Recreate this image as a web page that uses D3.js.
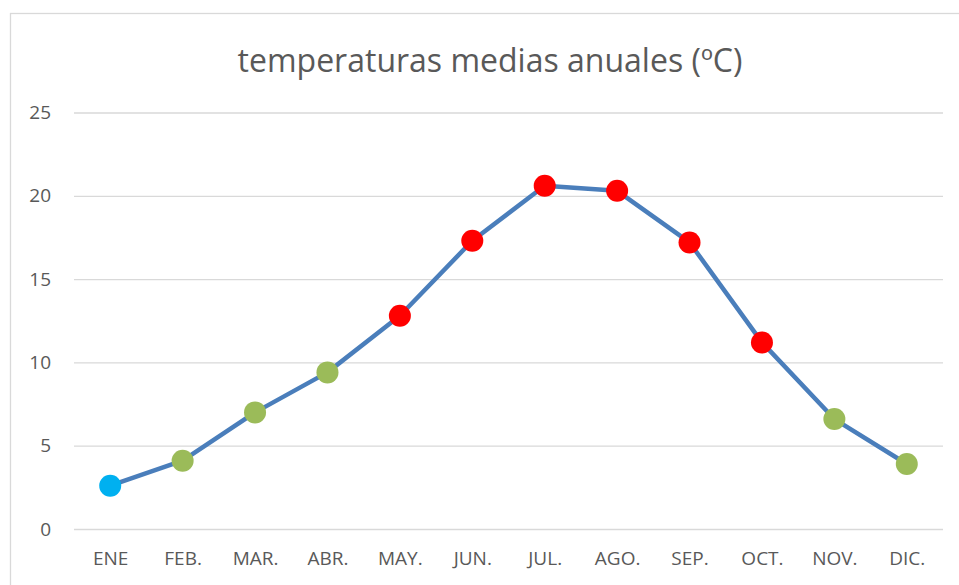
<!DOCTYPE html>
<html>
<head>
<meta charset="utf-8">
<script src="https://cdn.jsdelivr.net/npm/d3@7"></script>
<style>
  body { margin: 0; background: #fff; }
  .grid line { stroke: #d9d9d9; stroke-width: 1.3; }
  .axis text { fill: #595959; font-family: "Open Sans", sans-serif; font-size: 19px; }
</style>
</head>
<body>
<div id="chart"></div>
<script>
// data
var months = ["ENE", "FEB.", "MAR.", "ABR.", "MAY.", "JUN.", "JUL.", "AGO.", "SEP.", "OCT.", "NOV.", "DIC."];
var temps  = [2.6, 4.1, 7.0, 9.4, 12.8, 17.3, 20.6, 20.3, 17.2, 11.2, 6.6, 3.9];
// marker colour group per month: cold / mild / hot
var groups = ["cold", "mild", "mild", "mild", "hot", "hot", "hot", "hot", "hot", "hot", "mild", "mild"];
var yTicks = [0, 5, 10, 15, 20, 25];

var colors = {cold: "#00b0f0", mild: "#9bbb59", hot: "#ff0000"};

var w = 959, h = 585;
var plot = {left: 74, right: 943, top: 112.5, bottom: 529};

var svg = d3.select("#chart").append("svg")
  .attr("width", w)
  .attr("height", h);

//chart border
svg.append("rect")
  .attr("x", 10.5).attr("y", 13.5)
  .attr("width", 970).attr("height", 600)
  .attr("fill", "none")
  .attr("stroke", "#d9d9d9")
  .attr("stroke-width", 1.3);

var xScale = d3.scalePoint()
  .domain(months)
  .range([plot.left, plot.right])
  .padding(0.5);

var yScale = d3.scaleLinear()
  .domain([0, 25])
  .range([plot.bottom, plot.top]);

//gridlines
svg.append("g")
  .attr("class", "grid")
  .attr("transform", "translate(" + plot.left + ",0)")
  .call(d3.axisLeft(yScale).tickValues(yTicks).tickSize(-(plot.right - plot.left)).tickFormat(""))
  .call(function(g){ g.select(".domain").remove(); });

//y axis labels
svg.append("g")
  .attr("class", "axis")
  .attr("transform", "translate(" + plot.left + ",0)")
  .call(d3.axisLeft(yScale).tickValues(yTicks).tickSize(0).tickPadding(23))
  .call(function(g){ g.select(".domain").remove(); });

//x axis labels
svg.append("g")
  .attr("class", "axis")
  .attr("transform", "translate(0," + plot.bottom + ")")
  .call(d3.axisBottom(xScale).tickSize(0).tickPadding(23))
  .call(function(g){ g.select(".domain").remove(); });

var line = d3.line()
  .x(function(d, i) { return xScale(months[i]); })
  .y(function(d) { return yScale(d); });

svg.append("path")
  .datum(temps)
  .attr("fill", "none")
  .attr("stroke", "#4a7ebb")
  .attr("stroke-width", 4.5)
  .attr("stroke-linejoin", "round")
  .attr("d", line);

svg.selectAll(".dot")
  .data(temps)
  .enter()
  .append("circle")
  .attr("class", "dot")
  .attr("cx", function(d, i) { return xScale(months[i]); })
  .attr("cy", function(d) { return yScale(d); })
  .attr("r", 11)
  .attr("fill", function(d, i) { return colors[groups[i]]; });

//title
svg.append("text")
  .attr("x", 490)
  .attr("y", 72)
  .attr("text-anchor", "middle")
  .style("font", "32px 'Open Sans', sans-serif")
  .style("fill", "#595959")
  .text("temperaturas medias anuales (ºC)");
</script>
</body>
</html>
